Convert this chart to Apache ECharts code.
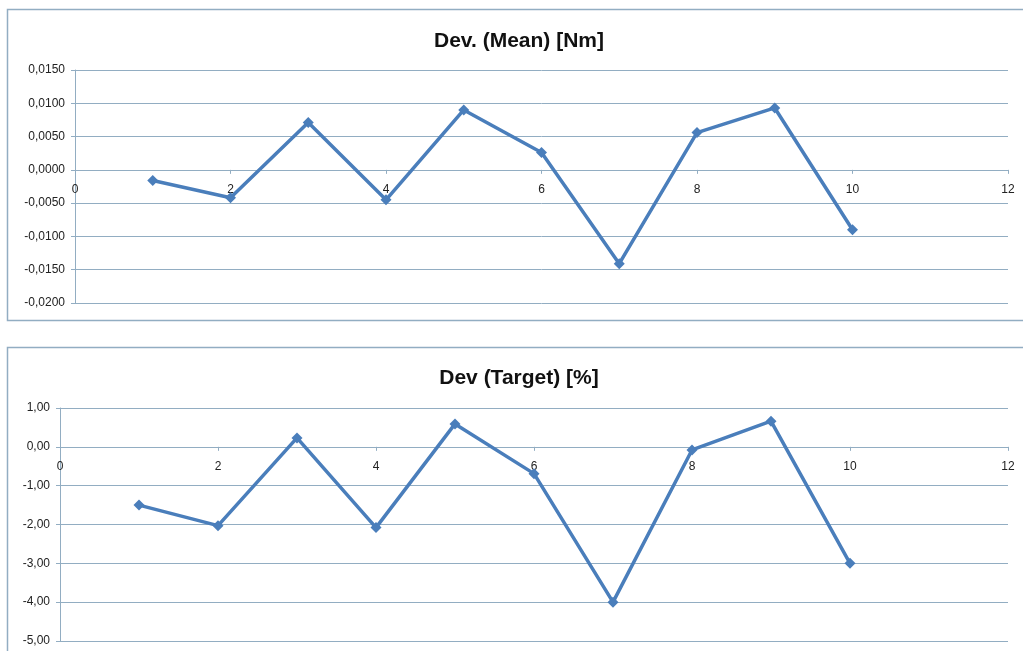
<!DOCTYPE html>
<html>
<head>
<meta charset="utf-8">
<script src="https://cdn.jsdelivr.net/npm/echarts@6/dist/echarts.min.js"></script>
<style>
html,body{margin:0;padding:0;background:#fff;}
#c{width:1023px;height:651px;}
</style>
</head>
<body>
<div id="c"></div>
<script>
const xValues = [1, 2, 3, 4, 5, 6, 7, 8, 9, 10];
const devMean = [-0.0016, -0.0042, 0.0071, -0.0045, 0.0090, 0.0026, -0.0141, 0.0056, 0.0093, -0.0090];
const devTarget = [-1.50, -2.03, 0.23, -2.08, 0.59, -0.69, -4.00, -0.08, 0.66, -3.00];
const titleMean = 'Dev. (Mean) [Nm]';
const titleTarget = 'Dev (Target) [%]';

const lineColor = '#4a7ebb';
const gridColor = '#92adc2';
const font = 'Liberation Sans, Arial, sans-serif';

// grid geometry
const g0 = { left: 75, right: 15, top: 70, height: 233 };
const g1 = { left: 60, right: 15, top: 408, height: 233 };
const y0Range = [-0.02, 0.015];
const y1Range = [-5, 1];
// distance from bottom of plot to the zero line, derived from the axis range
function zeroOffset(g, r) { return -g.height * (0 - r[0]) / (r[1] - r[0]); }

const chart = echarts.init(document.getElementById('c'));

function xAxisCfg(gi, off) {
  return {
    type: 'value', gridIndex: gi, min: 0, max: 12, interval: 2,
    position: 'bottom', offset: off,
    axisLine: { show: true, onZero: false, lineStyle: { color: gridColor, width: 1 } },
    axisTick: { show: true, length: 4, lineStyle: { color: gridColor } },
    axisLabel: { color: '#222', fontSize: 12, fontFamily: font, margin: 14 },
    splitLine: { show: false }
  };
}

chart.setOption({
  animation: false,
  graphic: [
    { type: 'rect', shape: { x: 7.5, y: 9.5, width: 1040, height: 311 }, style: { fill: 'none', stroke: gridColor, lineWidth: 1.5 } },
    { type: 'rect', shape: { x: 7.5, y: 347.5, width: 1040, height: 320 }, style: { fill: 'none', stroke: gridColor, lineWidth: 1.5 } },
    { type: 'text', x: 519, y: 41, style: { text: titleMean, font: 'bold 21px ' + font, fill: '#111', textAlign: 'center', textVerticalAlign: 'middle' } },
    { type: 'text', x: 519, y: 378, style: { text: titleTarget, font: 'bold 21px ' + font, fill: '#111', textAlign: 'center', textVerticalAlign: 'middle' } }
  ],
  grid: [g0, g1],
  xAxis: [xAxisCfg(0, zeroOffset(g0, y0Range)), xAxisCfg(1, zeroOffset(g1, y1Range))],
  yAxis: [
    {
      type: 'value', gridIndex: 0, min: y0Range[0], max: y0Range[1], interval: 0.005,
      axisLine: { show: true, lineStyle: { color: gridColor } },
      axisTick: { show: true, length: 4, lineStyle: { color: gridColor } },
      axisLabel: { color: '#222', fontSize: 12, fontFamily: font, margin: 10,
        formatter: v => v.toFixed(4).replace('.', ',') },
      splitLine: { show: true, lineStyle: { color: gridColor, width: 1 } }
    },
    {
      type: 'value', gridIndex: 1, min: y1Range[0], max: y1Range[1], interval: 1,
      axisLine: { show: true, lineStyle: { color: gridColor } },
      axisTick: { show: true, length: 4, lineStyle: { color: gridColor } },
      axisLabel: { color: '#222', fontSize: 12, fontFamily: font, margin: 10,
        formatter: v => v.toFixed(2).replace('.', ',') },
      splitLine: { show: true, lineStyle: { color: gridColor, width: 1 } }
    }
  ],
  series: [
    {
      type: 'line', xAxisIndex: 0, yAxisIndex: 0,
      data: xValues.map((x, i) => [x, devMean[i]]),
      symbol: 'diamond', symbolSize: 11,
      lineStyle: { color: lineColor, width: 3.5 },
      itemStyle: { color: lineColor }
    },
    {
      type: 'line', xAxisIndex: 1, yAxisIndex: 1,
      data: xValues.map((x, i) => [x, devTarget[i]]),
      symbol: 'diamond', symbolSize: 11,
      lineStyle: { color: lineColor, width: 3.5 },
      itemStyle: { color: lineColor }
    }
  ]
});
</script>
</body>
</html>
